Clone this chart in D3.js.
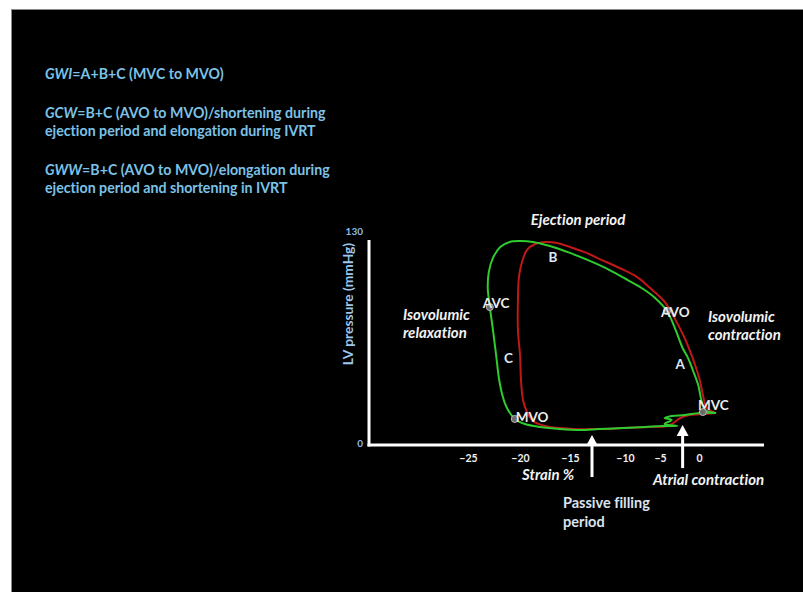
<!DOCTYPE html>
<html>
<head>
<meta charset="utf-8">
<script src="https://cdn.jsdelivr.net/npm/d3@7"></script>
<style>
  body { margin: 0; background: #fff; }
  svg { display: block; }
  text { font-family: Lato, "Open Sans", sans-serif; font-weight: bold; font-variant-ligatures: none; }
</style>
</head>
<body>
<svg id="chart" width="803" height="592"></svg>
<script>
// Loops: strain (%) vs LV pressure (mmHg), MVC -> AVO -> AVC -> MVO -> MVC
const greenStrain = [2.2, 0.8, 0.3, -0.1, -0.8, -1.4, -2.1, -3.0, -4.1, -5.7, -7.4, -9.6, -11.4, -13.2, -15, -17, -18.7, -20, -21.0, -21.9, -22.6, -23.0, -23.1, -22.9, -22.6, -22.3, -22.0, -21.7, -21.3, -20.5, -19.5, -18, -16, -14.1, -12.3, -10.2, -7.1, -4.7, -2.8, -4.4, -3.5, -4.4, -3.5, -1.8, 0.1, 2.2];
const greenPressure = [20.4, 22.3, 28.7, 38.2, 47.8, 55.4, 61.8, 73.3, 85.4, 93.7, 99.4, 105.1, 111.5, 117.3, 122.4, 126.8, 129.4, 130, 129.4, 126.2, 119.2, 110.2, 100.0, 87.9, 73.3, 57.4, 41.4, 31.9, 24.2, 16.6, 13.4, 11.5, 10.2, 9.6, 10.2, 10.8, 11.5, 12.1, 12.1, 13.4, 15.9, 17.2, 18.5, 19.1, 20.4, 20.4];
const redStrain = [2.1, 1.0, 0.5, 0.1, -0.5, -1.2, -1.9, -2.8, -3.7, -4.6, -6.4, -8.3, -10.5, -12.3, -13.5, -15, -16.3, -17.5, -18.5, -19.3, -19.8, -20.1, -20.2, -20.2, -20, -19.9, -19.7, -19.3, -18.7, -17.5, -14.7, -12.3, -10.2, -6.4, -4.0, -3.3, -2.4, -1.2, 0.8, 2.1];
const redPressure = [20.4, 23.6, 31.9, 41.4, 51.0, 60.5, 68.8, 77.7, 86.0, 92.4, 100.0, 107.1, 112.8, 118.5, 122.4, 126.2, 128.7, 129.4, 128.1, 124.3, 116.6, 107.1, 92.4, 73.3, 57.4, 41.4, 28.7, 21.0, 15.3, 12.1, 10.2, 10.2, 10.8, 11.5, 12.1, 14.0, 17.2, 19.1, 19.8, 20.4];

// valve events
const events = ['MVC', 'AVO', 'AVC', 'MVO'];
const eventStrain = [0.5, -4.1, -22.9, -20.5];
const eventPressure = [21.0, 85.4, 87.9, 16.6];

// work segments
const segLabels = ['A', 'B', 'C'];
const segStrain = [-2.4, -16.7, -21.1];
const segPressure = [48.4, 116.6, 52.3];

// arrows for filling phases
const arrowStrain = [-13.0, -2.1];
const arrowTop = [6.4, 12.7];
const arrowBottom = [-20.4, -14.7];

const xTicks = [-25, -20, -15, -10, -5, 0];
const yTicks = [0, 130];

const notes = [
  ['GWI', '=A+B+C (MVC to MVO)'],
  ['GCW', '=B+C (AVO to MVO)/shortening during'],
  ['', 'ejection period and elongation during IVRT'],
  ['GWW', '=B+C (AVO to MVO)/elongation during'],
  ['', 'ejection period and shortening in IVRT']
];

const svg = d3.select('#chart');

// black slide
svg.append('rect')
  .attr('x', 11.5).attr('y', 9.5)
  .attr('width', 792).attr('height', 583)
  .attr('fill', '#000')
  .attr('stroke', '#8a8a8a');

// Scales (tick spacing on the original axis is uneven)
const xScale = d3.scaleLinear()
  .domain(xTicks)
  .range([468, 520, 570, 625, 660, 699]);
const yScale = d3.scaleLinear()
  .domain([0, 130])
  .range([445, 241]);

const AXIS_LEFT = 369;
const AXIS_RIGHT = 764;

// Notes top left
const noteY = [79, 118, 136, 175, 193];
notes.forEach((n, i) => {
  const t = svg.append('text')
    .attr('x', 45)
    .attr('y', noteY[i])
    .attr('fill', '#7cc2e6')
    .style('font-size', '14.2px');
  if (n[0] !== '') {
    t.append('tspan').style('font-style', 'italic').text(n[0]);
  }
  t.append('tspan').text(n[1]);
});

// Axes
svg.append('line')
  .attr('x1', AXIS_LEFT).attr('x2', AXIS_LEFT)
  .attr('y1', yScale(130) - 1).attr('y2', yScale(0) + 1.5)
  .attr('stroke', '#fff').attr('stroke-width', 3);
svg.append('line')
  .attr('x1', AXIS_LEFT - 1.5).attr('x2', AXIS_RIGHT)
  .attr('y1', yScale(0)).attr('y2', yScale(0))
  .attr('stroke', '#fff').attr('stroke-width', 3);

const xAxis = d3.axisBottom(xScale)
  .tickValues(xTicks)
  .tickSize(0)
  .tickPadding(10);
const gx = svg.append('g')
  .attr('transform', `translate(0, ${yScale(0)})`)
  .call(xAxis);
gx.select('.domain').remove();
gx.selectAll('text')
  .attr('fill', '#f0f0f0')
  .style('font-size', '10.5px')
  .style('font-family', 'Lato, sans-serif')
  .style('font-weight', 'bold');

svg.selectAll('.ytick')
  .data(yTicks)
  .join('text')
  .attr('class', 'ytick')
  .attr('x', AXIS_LEFT - 6)
  .attr('y', d => d === 0 ? yScale(d) + 2 : yScale(d) - 6)
  .attr('text-anchor', 'end')
  .attr('fill', '#8fbde6')
  .style('font-size', '10px')
  .text(d => d);

svg.append('text')
  .attr('transform', 'translate(353, 304) rotate(-90)')
  .attr('text-anchor', 'middle')
  .attr('fill', '#9cc6ea')
  .style('font-size', '13.8px')
  .text('LV pressure (mmHg)');

// Loops
const lineGenerator = d3.line()
  .x(d => xScale(d[0]))
  .y(d => yScale(d[1]))
  .curve(d3.curveCatmullRom.alpha(0.5));

const redData = d3.zip(redStrain, redPressure);
const greenData = d3.zip(greenStrain, greenPressure);

svg.append('path')
  .datum(redData)
  .attr('d', lineGenerator)
  .attr('fill', 'none')
  .attr('stroke', '#c01818')
  .attr('stroke-width', 2);

svg.append('path')
  .datum(greenData)
  .attr('d', lineGenerator)
  .attr('fill', 'none')
  .attr('stroke', '#2fcc2f')
  .attr('stroke-width', 2);

// Event markers and labels
const labelOffset = { MVC: [-5, -2], AVO: [-6, 6], AVC: [-7, 1], MVO: [1, 3] };
const eventData = d3.zip(events, eventStrain, eventPressure);

svg.selectAll('.event-dot')
  .data(eventData)
  .join('circle')
  .attr('class', 'event-dot')
  .attr('cx', d => xScale(d[1]))
  .attr('cy', d => yScale(d[2]))
  .attr('r', 3.5)
  .attr('fill', '#6a6a6a')
  .attr('stroke', '#b5b5b5')
  .attr('stroke-width', 1);

svg.selectAll('.event-label')
  .data(eventData)
  .join('text')
  .attr('class', 'event-label')
  .attr('x', d => xScale(d[1]) + labelOffset[d[0]][0])
  .attr('y', d => yScale(d[2]) + labelOffset[d[0]][1])
  .attr('fill', '#ececec')
  .style('font-size', '13.5px')
  .text(d => d[0]);

svg.selectAll('.seg-label')
  .data(d3.zip(segLabels, segStrain, segPressure))
  .join('text')
  .attr('class', 'seg-label')
  .attr('x', d => xScale(d[1]))
  .attr('y', d => yScale(d[2]))
  .attr('text-anchor', 'middle')
  .attr('fill', '#dfe8f4')
  .style('font-size', '13.5px')
  .text(d => d[0]);

// Arrows
const arrowData = d3.zip(arrowStrain, arrowTop, arrowBottom);
svg.selectAll('.arrow-shaft')
  .data(arrowData)
  .join('line')
  .attr('class', 'arrow-shaft')
  .attr('x1', d => xScale(d[0]))
  .attr('x2', d => xScale(d[0]))
  .attr('y1', d => yScale(d[1]) + 8)
  .attr('y2', d => yScale(d[2]))
  .attr('stroke', '#fff')
  .attr('stroke-width', 3);
svg.selectAll('.arrow-head')
  .data(arrowData)
  .join('path')
  .attr('class', 'arrow-head')
  .attr('d', d => {
    const x = xScale(d[0]), y = yScale(d[1]);
    return `M${x},${y} L${x + 6},${y + 11} L${x - 6},${y + 11} Z`;
  })
  .attr('fill', '#fff');

// Phase annotations
const italicNotes = [
  { text: 'Ejection period', x: 578, y: 225, anchor: 'middle' },
  { text: 'Isovolumic', x: 403, y: 320, anchor: 'start' },
  { text: 'relaxation', x: 403, y: 338, anchor: 'start' },
  { text: 'Isovolumic', x: 708, y: 322, anchor: 'start' },
  { text: 'contraction', x: 708, y: 340, anchor: 'start' },
  { text: 'Strain %', x: 522, y: 480, anchor: 'start' },
  { text: 'Atrial contraction', x: 653, y: 485, anchor: 'start' }
];
svg.selectAll('.phase')
  .data(italicNotes)
  .join('text')
  .attr('class', 'phase')
  .attr('x', d => d.x)
  .attr('y', d => d.y)
  .attr('text-anchor', d => d.anchor)
  .attr('fill', '#f2f2f2')
  .style('font-style', 'italic')
  .style('font-size', '15px')
  .text(d => d.text);

svg.append('text')
  .attr('x', 563).attr('y', 508)
  .attr('fill', '#dbe4ef')
  .style('font-size', '14.5px')
  .text('Passive filling');
svg.append('text')
  .attr('x', 563).attr('y', 527)
  .attr('fill', '#dbe4ef')
  .style('font-size', '14.5px')
  .text('period');
</script>
</body>
</html>
